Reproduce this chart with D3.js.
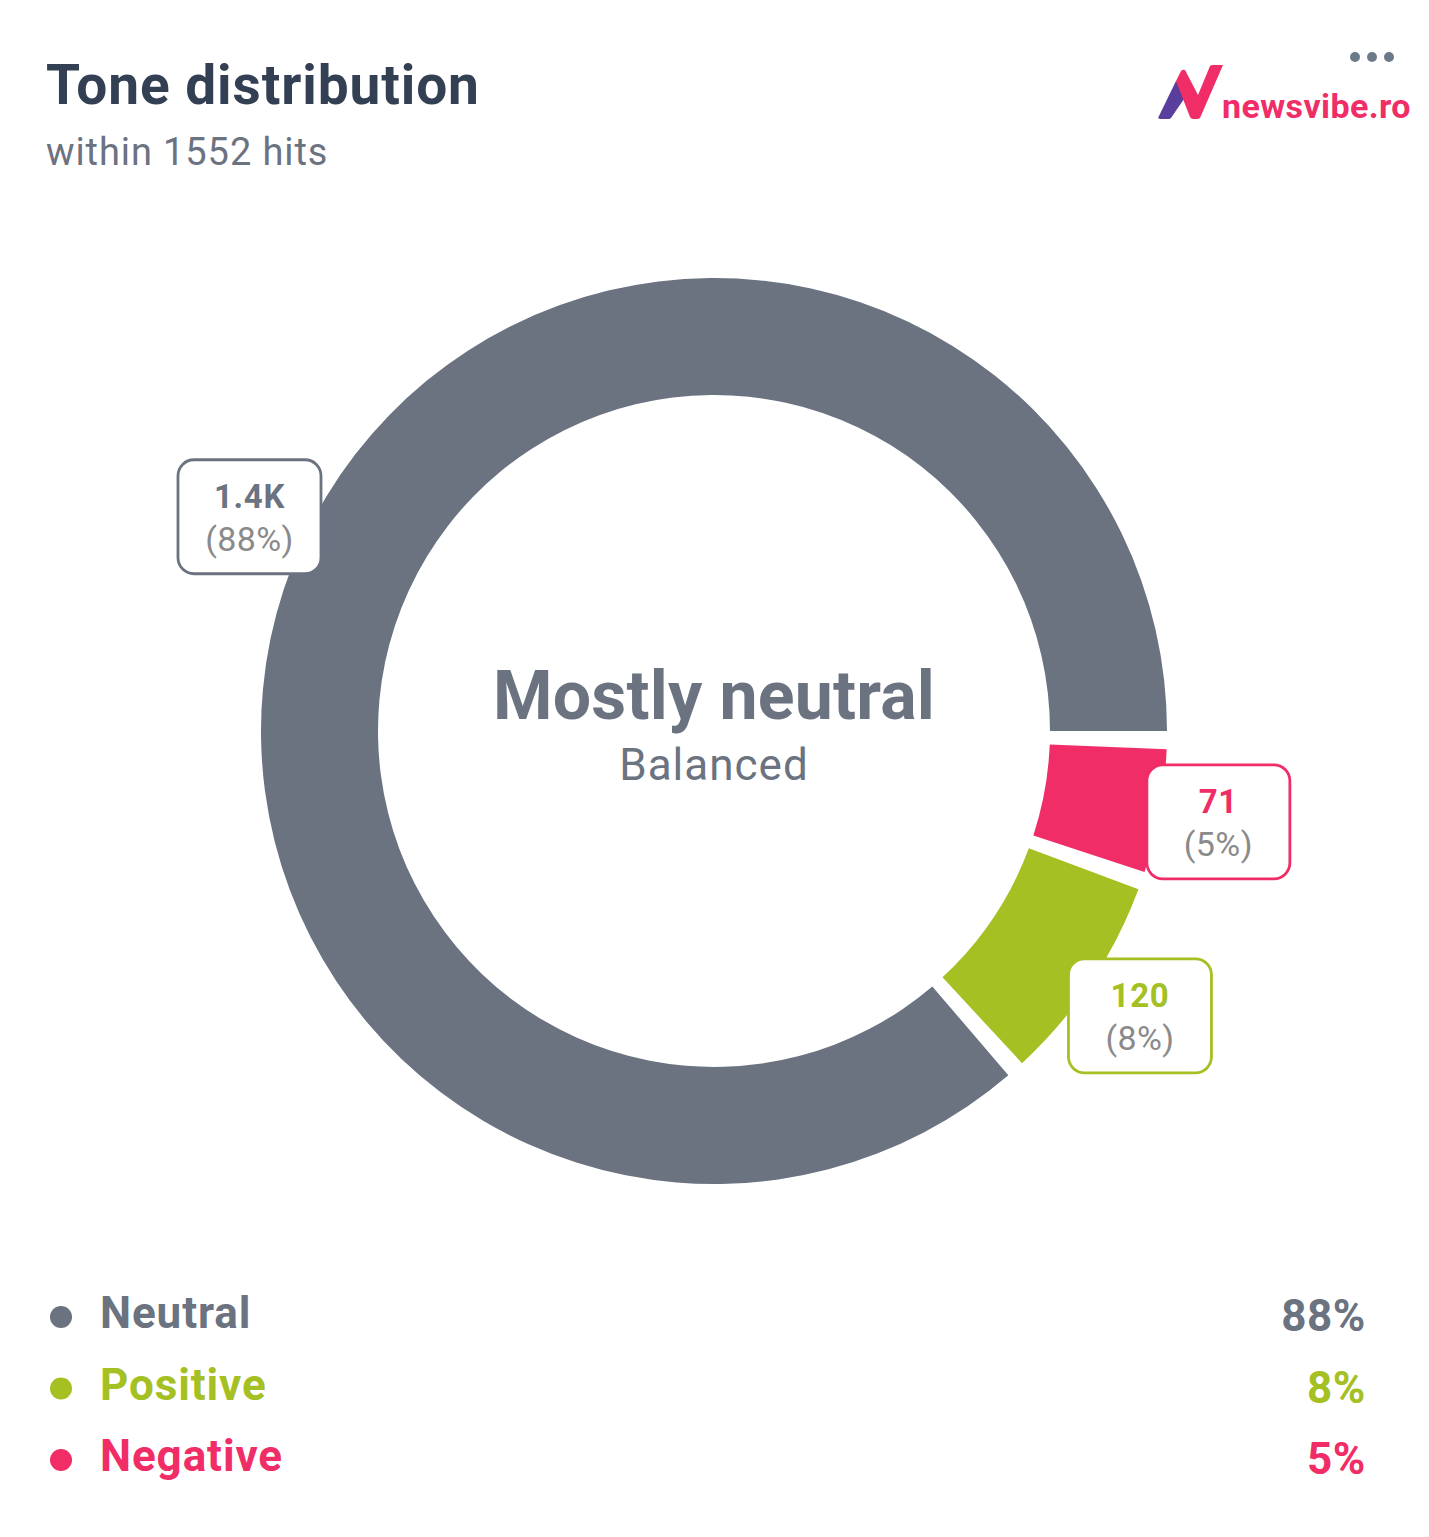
<!DOCTYPE html>
<html>
<head>
<meta charset="utf-8">
<script src="https://cdn.jsdelivr.net/npm/d3@7"></script>
<style>
    body { margin: 0; background: #fff; }
    text { font-family: Roboto, sans-serif; }
</style>
</head>
<body>
<div id="chart"></div>
<script>
const categories = ["Neutral", "Positive", "Negative"];
const hits = [1395, 120, 71];
const hitLabels = ["1.4K", "120", "71"];
const percents = ["88%", "8%", "5%"];
const colors = ["#6b7280", "#a5c023", "#f02d67"];

const svgWidth = 1429;
const svgHeight = 1537;
const center = { x: 714, y: 731 };
const outerRadius = 453;
const innerRadius = 336;
const labelRadius = 512;
const gap = 0.0405;

const svg = d3.select("#chart")
    .append("svg")
    .attr("width", svgWidth)
    .attr("height", svgHeight)
    .style("display", "block");

// header
svg.append("text")
    .attr("x", 46).attr("y", 104)
    .attr("font-size", 55).attr("font-weight", 700)
    .attr("letter-spacing", 0.9)
    .attr("fill", "#333f52")
    .text("Tone distribution");

svg.append("text")
    .attr("x", 46).attr("y", 165)
    .attr("font-size", 38)
    .attr("letter-spacing", 0.9)
    .attr("fill", "#6b7280")
    .text("within 1552 hits");

// menu dots
svg.selectAll("circle.menu")
    .data([1355, 1372, 1389])
    .enter()
    .append("circle")
    .attr("class", "menu")
    .attr("cx", d => d).attr("cy", 57).attr("r", 5)
    .attr("fill", "#6b7a88");

// logo
const logo = svg.append("g").attr("transform", "translate(1130, 60)");
logo.append("path")
    .attr("d", "M28 58 L46 21 L56 36 L41 58 Q40 59 39 59 L30 59 Z")
    .attr("fill", "#5a3e9b");
logo.append("path")
    .attr("d", "M46 21 L51 11 Q53 9 55 10 L68 35 L80 6 Q81 5 83 5 L93 5 L70 58 Q69 59 67 59 L63 59 Q61 59 60 57 Z")
    .attr("fill", "#f02d67");
svg.append("text")
    .attr("x", 1222).attr("y", 118)
    .attr("font-size", 34).attr("font-weight", 700)
    .attr("letter-spacing", 0.4)
    .attr("fill", "#f02d67")
    .text("newsvibe.ro");

// donut, clockwise from 3 o'clock, negative first
const order = [2, 1, 0];

const pie = d3.pie()
    .value(i => hits[i])
    .sort(null)
    .startAngle(Math.PI / 2)
    .endAngle(Math.PI / 2 + 2 * Math.PI)
    .padAngle(gap);

const slices = pie(order).map(d => ({
    index: d.data,
    startAngle: d.startAngle + gap,
    endAngle: d.endAngle
}));

const arc = d3.arc().innerRadius(innerRadius).outerRadius(outerRadius);
const labelArc = d3.arc().innerRadius(labelRadius).outerRadius(labelRadius);

const donut = svg.append("g")
    .attr("transform", `translate(${center.x}, ${center.y})`);

donut.selectAll("path")
    .data(slices)
    .enter()
    .append("path")
    .attr("d", arc)
    .attr("fill", d => colors[d.index]);

const labels = donut.selectAll("g.label")
    .data(slices)
    .enter()
    .append("g")
    .attr("class", "label")
    .attr("transform", d => `translate(${labelArc.centroid(d)})`);

labels.append("rect")
    .attr("x", -71).attr("y", -57)
    .attr("width", 143).attr("height", 114)
    .attr("rx", 16)
    .attr("fill", "#fff")
    .attr("stroke", d => colors[d.index])
    .attr("stroke-width", 2.8);

labels.append("text")
    .attr("x", 0.5).attr("y", -9)
    .attr("text-anchor", "middle")
    .attr("font-size", 33).attr("font-weight", 700)
    .attr("letter-spacing", 0.7)
    .attr("fill", d => colors[d.index])
    .text(d => hitLabels[d.index]);

labels.append("text")
    .attr("x", 0.5).attr("y", 34)
    .attr("text-anchor", "middle")
    .attr("font-size", 34)
    .attr("letter-spacing", 0.4)
    .attr("fill", "#8a8a8a")
    .text(d => `(${percents[d.index]})`);

// center text
svg.append("text")
    .attr("x", center.x).attr("y", 719)
    .attr("text-anchor", "middle")
    .attr("font-size", 68).attr("font-weight", 700)
    .attr("letter-spacing", 0.2)
    .attr("fill", "#6b7280")
    .text("Mostly neutral");

svg.append("text")
    .attr("x", center.x).attr("y", 780)
    .attr("text-anchor", "middle")
    .attr("font-size", 44)
    .attr("letter-spacing", 1)
    .attr("fill", "#6b7280")
    .text("Balanced");

// legend
const rowY = d3.scalePoint()
    .domain(categories)
    .range([1316, 1459]);

const rows = svg.selectAll("g.row")
    .data(categories)
    .enter()
    .append("g")
    .attr("class", "row")
    .attr("transform", d => `translate(0, ${rowY(d)})`);

rows.append("circle")
    .attr("cx", 61).attr("cy", 1).attr("r", 11)
    .attr("fill", (d, i) => colors[i]);

rows.append("text")
    .attr("x", 100).attr("y", 12)
    .attr("font-size", 44).attr("font-weight", 700)
    .attr("letter-spacing", 0.9)
    .attr("fill", (d, i) => colors[i])
    .text(d => d);

rows.append("text")
    .attr("x", 1366).attr("y", 15)
    .attr("text-anchor", "end")
    .attr("font-size", 44).attr("font-weight", 700)
    .attr("letter-spacing", 0.6)
    .attr("fill", (d, i) => colors[i])
    .text((d, i) => percents[i]);
</script>
</body>
</html>
